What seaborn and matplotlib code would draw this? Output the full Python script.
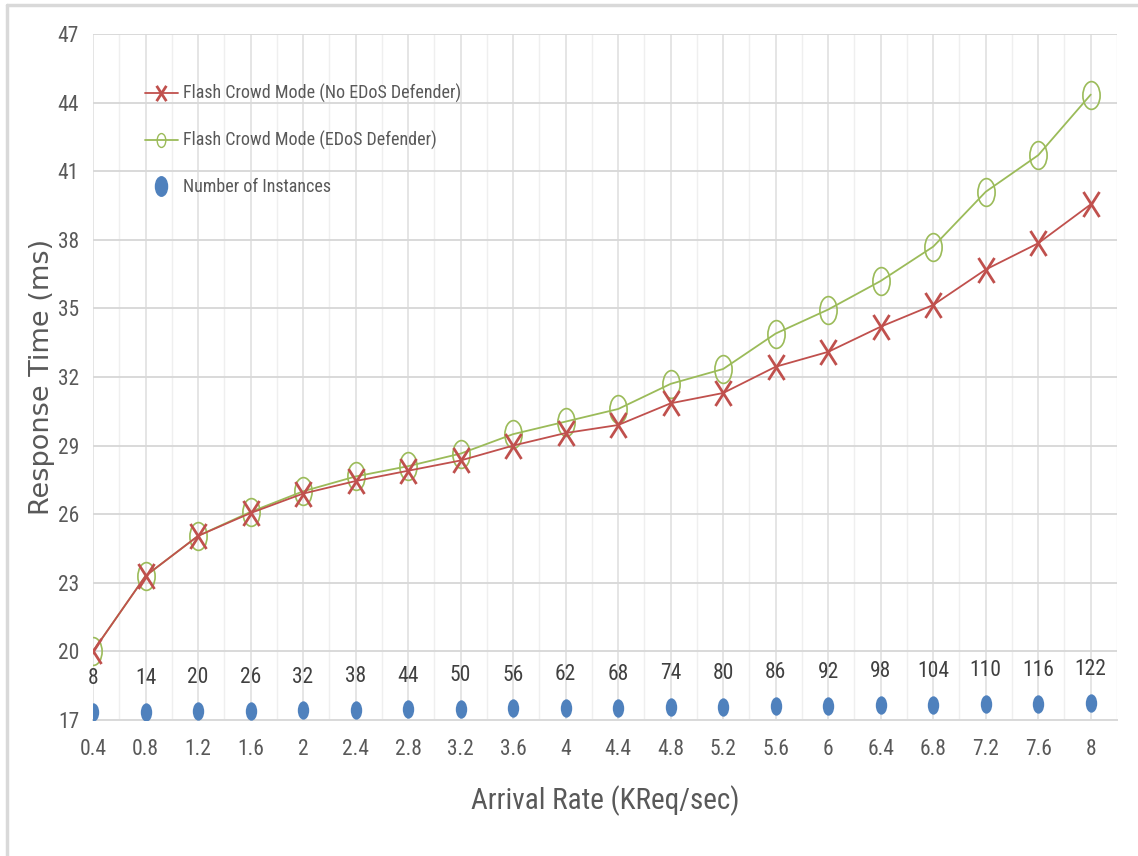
import numpy as np
import pandas as pd
import matplotlib
matplotlib.use("Agg")
import matplotlib.pyplot as plt
from matplotlib.path import Path
from matplotlib.lines import Line2D
import seaborn as sns

# ---- data ----
arrival_rate = ["0.4", "0.8", "1.2", "1.6", "2", "2.4", "2.8", "3.2", "3.6", "4",
                "4.4", "4.8", "5.2", "5.6", "6", "6.4", "6.8", "7.2", "7.6", "8"]
no_defender = [20.0, 23.3, 25.05, 26.05, 26.9, 27.45, 27.9, 28.35, 29.0, 29.55,
               29.9, 30.85, 31.3, 32.45, 33.1, 34.2, 35.15, 36.7, 37.85, 39.55]
with_defender = [20.0, 23.3, 25.05, 26.1, 27.0, 27.65, 28.1, 28.65, 29.5, 30.05,
                 30.6, 31.7, 32.35, 33.9, 34.95, 36.2, 37.7, 40.1, 41.7, 44.35]
instances = [8, 14, 20, 26, 32, 38, 44, 50, 56, 62, 68, 74, 80, 86, 92, 98,
             104, 110, 116, 122]
y_ticks = [17, 20, 23, 26, 29, 32, 35, 38, 41, 44, 47]

RED = "#C0504D"
GREEN = "#9BBB59"
BLUE = "#4F81BD"
TXT = "#595959"

sns.set_theme(style="white")
plt.rcParams["font.family"] = ["Roboto Condensed", "Liberation Sans Narrow",
                               "Roboto", "DejaVu Sans"]

# custom (vertically stretched) marker shapes
ellipse = Path.unit_circle().transformed(matplotlib.transforms.Affine2D().scale(0.62, 1.0))
xmark = Path([(-0.64, -1), (0.64, 1), (-0.64, 1), (0.64, -1)],
             [Path.MOVETO, Path.LINETO, Path.MOVETO, Path.LINETO])

W, H = 1138, 856
fig = plt.figure(figsize=(W / 100, H / 100), dpi=100)
ax = fig.add_axes([93 / W, 1 - 720 / H, (1117 - 93) / W, (720 - 34) / H])

idx = np.arange(len(arrival_rate))
df = pd.DataFrame({"idx": idx, "no": no_defender, "yes": with_defender,
                   "inst": instances})

sns.lineplot(data=df, x="idx", y="yes", ax=ax, color=GREEN, lw=1.3,
             marker=ellipse, markersize=20, markerfacecolor="none",
             markeredgecolor=GREEN, markeredgewidth=1.2, zorder=4)
sns.lineplot(data=df, x="idx", y="no", ax=ax, color=RED, lw=1.3,
             marker=xmark, markersize=18, markeredgecolor=RED,
             markeredgewidth=2.0, zorder=5)

ax.set_ylim(17, 47)
ax.set_xlim(0, 19.5)
ax.set_yticks(y_ticks)
ax.set_xticks(idx)
ax.set_xticklabels(arrival_rate)
ax.set_xticks(idx + 0.5, minor=True)
ax.grid(axis="y", color="#d9d9d9", lw=1.4)
ax.grid(axis="x", which="major", color="#dedede", lw=1.1)
ax.grid(axis="x", which="minor", color="#efefef", lw=1.0)
ax.set_axisbelow(True)
for s in ["top", "right", "left"]:
    ax.spines[s].set_visible(False)
ax.spines["bottom"].set_color("#d9d9d9")
ax.spines["bottom"].set_linewidth(1.4)
ax.tick_params(axis="both", which="both", length=0, colors=TXT, labelsize=15.5)
ax.tick_params(axis="x", pad=14)
ax.tick_params(axis="y", pad=10)
ax.set_xlabel("Arrival Rate (KReq/sec)", fontsize=21, color=TXT)
ax.xaxis.label.set_va("center")
ax.xaxis.set_label_coords(0.5, -(801 - 720) / 686)
ax.set_ylabel("Response Time (ms)", fontsize=19.5, color=TXT,
              family="DejaVu Sans")
ax.yaxis.label.set_va("center")
ax.yaxis.set_label_coords(-(93 - 42) / 1024, 0.5)

# number of instances on a hidden secondary axis
ax2 = ax.twinx()
sns.scatterplot(data=df, x="idx", y="inst", ax=ax2, color=BLUE, marker=ellipse,
                s=175, edgecolor=BLUE, linewidth=0, zorder=6)
ax2.set_ylim(-90, 8586)
ax2.set_xlim(0, 19.5)
ax2.axis("off")
for i, v in zip(idx, instances):
    ax2.annotate(str(v), (i, v), xytext=(0, 24), textcoords="offset points",
                 ha="center", va="center", fontsize=15.5, color="#404040")

handles = [
    Line2D([], [], color=RED, lw=1.3, marker=xmark, markersize=11,
           markeredgewidth=2, markeredgecolor=RED),
    Line2D([], [], color=GREEN, lw=1.3, marker=ellipse, markersize=10,
           markerfacecolor="none", markeredgecolor=GREEN),
    Line2D([], [], color="none", marker=ellipse, markersize=14,
           markerfacecolor=BLUE, markeredgecolor=BLUE),
]
labels = ["Flash Crowd Mode (No EDoS Defender)",
          "Flash Crowd Mode (EDoS Defender)",
          "Number of Instances"]
leg = ax.legend(handles, labels, loc="upper left",
                bbox_to_anchor=((145 - 93) / 1024, (720 - 84) / 686),
                frameon=False, fontsize=13, labelspacing=1.55,
                borderpad=0, borderaxespad=0,
                handlelength=1.8, handletextpad=0.3, labelcolor=TXT)
leg.set_zorder(10)

# outer chart border (top & left edges visible)
fig.add_artist(Line2D([7 / W, 1], [1 - 5 / H, 1 - 5 / H], color="#d9d9d9", lw=2.5))
fig.add_artist(Line2D([7 / W, 7 / W], [0, 1 - 5 / H], color="#d9d9d9", lw=2.5))

fig.savefig("out.png", dpi=100)
